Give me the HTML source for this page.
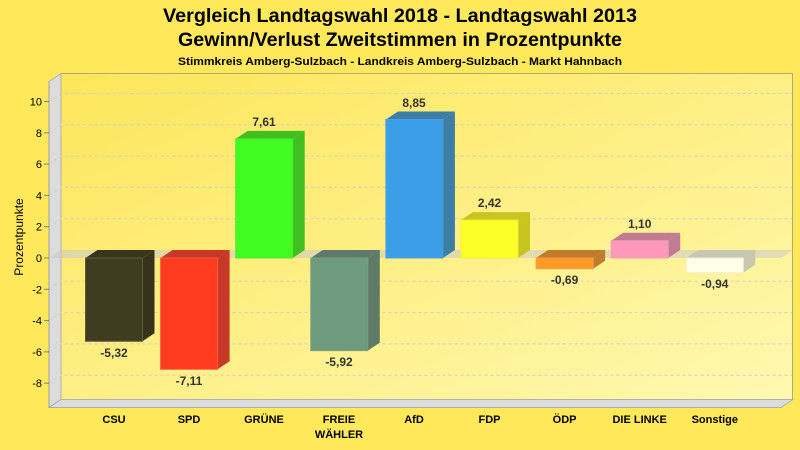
<!DOCTYPE html>
<html><head><meta charset="utf-8"><style>
html,body{margin:0;padding:0;background:#ffe85a;}
svg{display:block;}
text{font-family:"Liberation Sans",Arial,sans-serif;}
</style></head><body>
<svg width="800" height="450" viewBox="0 0 800 450" xmlns="http://www.w3.org/2000/svg">
<defs>
<linearGradient id="wall" x1="0" y1="0" x2="1" y2="1">
<stop offset="0" stop-color="#fde65a"/>
<stop offset="1" stop-color="#fff8b0"/>
</linearGradient>
</defs>
<rect width="800" height="450" fill="#ffe85a"/>
<!-- titles -->
<text x="400" y="22" font-size="19" font-weight="bold" text-anchor="middle" textLength="474" lengthAdjust="spacingAndGlyphs" fill="#000">Vergleich Landtagswahl 2018 - Landtagswahl 2013</text>
<text x="400" y="46" font-size="19" font-weight="bold" text-anchor="middle" textLength="444" lengthAdjust="spacingAndGlyphs" fill="#000">Gewinn/Verlust Zweitstimmen in Prozentpunkte</text>
<text x="400" y="65" font-size="11" font-weight="bold" text-anchor="middle" textLength="444" lengthAdjust="spacingAndGlyphs" fill="#000">Stimmkreis Amberg-Sulzbach - Landkreis Amberg-Sulzbach - Markt Hahnbach</text>
<!-- back wall -->
<rect x="61" y="73.5" width="731.5" height="326" fill="url(#wall)" stroke="#b4a878" stroke-width="1"/>
<!-- side wall -->
<polygon points="49,81.5 61,73.5 61,399.5 49,407.5" fill="#dcdcdc" stroke="#b0b0b0" stroke-width="1"/>
<!-- floor -->
<polygon points="49,407.5 781,407.5 793,399.5 61,399.5" fill="#dcdcdc" stroke="#b0b0b0" stroke-width="1"/>
<!-- grid lines -->
<g stroke="#cfcfcf" stroke-width="1" stroke-dasharray="3,3" fill="none">
<path d="M49,101.5 L61,93.5 L792,93.5"/>
<path d="M49,132.8 L61,124.8 L792,124.8"/>
<path d="M49,164.1 L61,156.1 L792,156.1"/>
<path d="M49,195.4 L61,187.4 L792,187.4"/>
<path d="M49,226.7 L61,218.7 L792,218.7"/>
<path d="M49,289.3 L61,281.3 L792,281.3"/>
<path d="M49,320.6 L61,312.6 L792,312.6"/>
<path d="M49,351.9 L61,343.9 L792,343.9"/>
<path d="M49,383.2 L61,375.2 L792,375.2"/>
</g>
<!-- axis line -->
<line x1="49" y1="81.5" x2="49" y2="407.5" stroke="#a0a0a0" stroke-width="1"/>
<!-- ticks -->
<g stroke="#808080" stroke-width="1">
<line x1="44" y1="101.5" x2="49" y2="101.5"/>
<line x1="44" y1="132.8" x2="49" y2="132.8"/>
<line x1="44" y1="164.1" x2="49" y2="164.1"/>
<line x1="44" y1="195.4" x2="49" y2="195.4"/>
<line x1="44" y1="226.7" x2="49" y2="226.7"/>
<line x1="44" y1="258" x2="49" y2="258"/>
<line x1="44" y1="289.3" x2="49" y2="289.3"/>
<line x1="44" y1="320.6" x2="49" y2="320.6"/>
<line x1="44" y1="351.9" x2="49" y2="351.9"/>
<line x1="44" y1="383.2" x2="49" y2="383.2"/>
</g>
<g font-size="11" text-anchor="end" fill="#000">
<text x="42" y="105.5">10</text>
<text x="42" y="136.8">8</text>
<text x="42" y="168.1">6</text>
<text x="42" y="199.4">4</text>
<text x="42" y="230.7">2</text>
<text x="42" y="262">0</text>
<text x="42" y="293.3">-2</text>
<text x="42" y="324.6">-4</text>
<text x="42" y="355.9">-6</text>
<text x="42" y="387.2">-8</text>
</g>
<text transform="translate(23,237) rotate(-90)" font-size="12" text-anchor="middle" fill="#000">Prozentpunkte</text>
<!-- zero plane -->
<polygon points="49,258 781,258 793,250 61,250" fill="#c8c8c8" fill-opacity="0.55"/>

<!-- CSU -5.32 -->
<polygon points="85.5,258 142.5,258 154.5,250 97.5,250" fill="#38351d"/>
<polygon points="142.5,258 154.5,250 154.5,333.3 142.5,341.3" fill="#36331c"/>
<rect x="85.5" y="258" width="57" height="83.3" fill="#403c21" stroke="#5e5a38" stroke-width="1"/>
<!-- SPD -7.11 -->
<polygon points="160.6,258 217.6,258 229.6,250 172.6,250" fill="#c83826"/>
<polygon points="217.6,258 229.6,250 229.6,361.3 217.6,369.3" fill="#c83826"/>
<rect x="160.6" y="258" width="57" height="111.3" fill="#ff3b20" stroke="#ff5a40" stroke-width="1"/>
<!-- GRUENE 7.61 -->
<polygon points="235.7,138.9 292.7,138.9 304.7,130.9 247.7,130.9" fill="#40c020"/>
<polygon points="292.7,138.9 304.7,130.9 304.7,250 292.7,258" fill="#40c020"/>
<rect x="235.7" y="138.9" width="57" height="119.1" fill="#40fc20" stroke="#50e830" stroke-width="1"/>
<!-- FREIE 5.92 -->
<polygon points="310.8,258 367.8,258 379.8,250 322.8,250" fill="#5e7a6a"/>
<polygon points="367.8,258 379.8,250 379.8,342.6 367.8,350.6" fill="#5f7a66"/>
<rect x="310.8" y="258" width="57" height="92.6" fill="#6e9b7e" stroke="#7a9e80" stroke-width="1"/>
<!-- AfD 8.85 -->
<polygon points="385.9,119.5 442.9,119.5 454.9,111.5 397.9,111.5" fill="#3c7ea6"/>
<polygon points="442.9,119.5 454.9,111.5 454.9,250 442.9,258" fill="#3c7ea6"/>
<rect x="385.9" y="119.5" width="57" height="138.5" fill="#3c9ee6" stroke="#4aa0e0" stroke-width="1"/>
<!-- FDP 2.42 -->
<polygon points="461,220.1 518,220.1 530,212.1 473,212.1" fill="#c8c420"/>
<polygon points="518,220.1 530,212.1 530,250 518,258" fill="#c8c420"/>
<rect x="461" y="220.1" width="57" height="37.9" fill="#ffff28" stroke="#f4f030" stroke-width="1"/>
<!-- OEDP -0.69 -->
<polygon points="536.1,258 593.1,258 605.1,250 548.1,250" fill="#c07c2c"/>
<polygon points="593.1,258 605.1,250 605.1,260.8 593.1,268.8" fill="#c07c2c"/>
<rect x="536.1" y="258" width="57" height="10.8" fill="#ff9a28" stroke="#f0a040" stroke-width="1"/>
<!-- LINKE 1.10 -->
<polygon points="611.2,240.8 668.2,240.8 680.2,232.8 623.2,232.8" fill="#c07c90"/>
<polygon points="668.2,240.8 680.2,232.8 680.2,250 668.2,258" fill="#c07c90"/>
<rect x="611.2" y="240.8" width="57" height="17.2" fill="#ff99bb" stroke="#f0a0b8" stroke-width="1"/>
<!-- Sonstige -0.94 -->
<polygon points="686.3,258 743.3,258 755.3,250 698.3,250" fill="#c8c8b0"/>
<polygon points="743.3,258 755.3,250 755.3,264.7 743.3,272.7" fill="#c8c8b0"/>
<rect x="686.3" y="258" width="57" height="14.7" fill="#fffee8" stroke="#f0f0d0" stroke-width="1"/>

<!-- value labels -->
<g font-size="12" font-weight="bold" fill="#333" text-anchor="middle">
<text x="114" y="357">-5,32</text>
<text x="189" y="385">-7,11</text>
<text x="264" y="126">7,61</text>
<text x="339" y="366">-5,92</text>
<text x="414" y="107">8,85</text>
<text x="489.5" y="207">2,42</text>
<text x="564.6" y="284">-0,69</text>
<text x="639.7" y="228">1,10</text>
<text x="714.8" y="288">-0,94</text>
</g>
<!-- category labels -->
<g font-size="11" font-weight="bold" fill="#000" text-anchor="middle">
<text x="114" y="423">CSU</text>
<text x="189" y="423">SPD</text>
<text x="264" y="423">GRÜNE</text>
<text x="339" y="423">FREIE</text>
<text x="339" y="438">WÄHLER</text>
<text x="414" y="423">AfD</text>
<text x="489.5" y="423">FDP</text>
<text x="564.6" y="423">ÖDP</text>
<text x="639.7" y="423">DIE LINKE</text>
<text x="714.8" y="423">Sonstige</text>
</g>
</svg>
</body></html>
